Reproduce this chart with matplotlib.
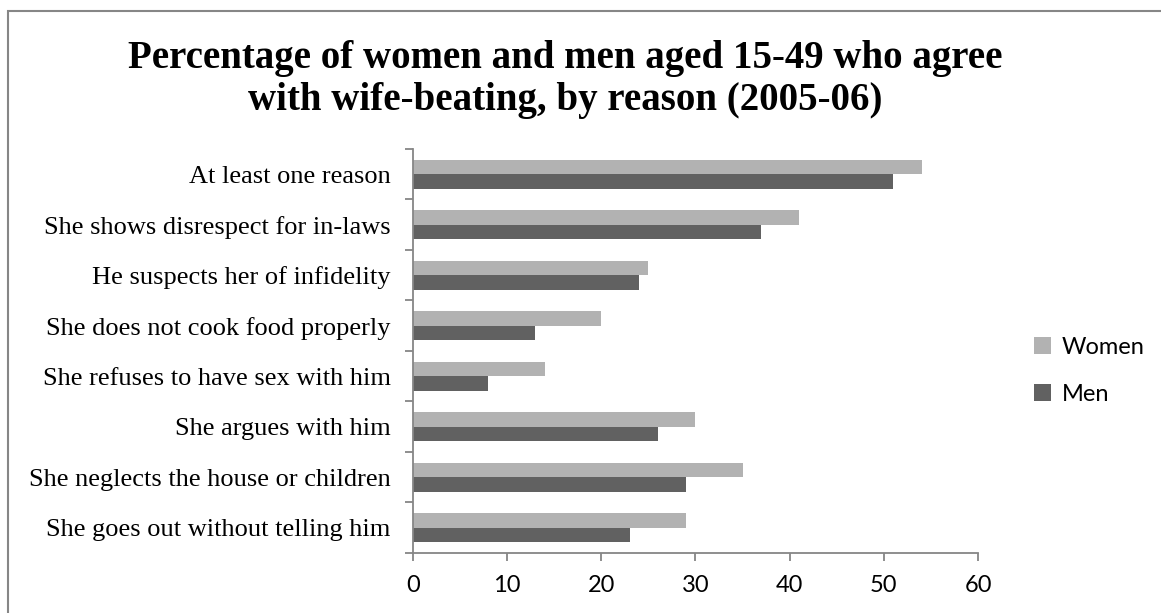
import numpy as np
import matplotlib.pyplot as plt
from matplotlib.patches import Rectangle

reasons = ["At least one reason",
           "She shows disrespect for in-laws",
           "He suspects her of infidelity",
           "She does not cook food properly",
           "She refuses to have sex with him",
           "She argues with him",
           "She neglects the house or children",
           "She goes out without telling him"]
women = [54, 41, 25, 20, 14, 30, 35, 29]
men = [51, 37, 24, 13, 8, 26, 29, 23]

c_women = "#b2b2b2"
c_men = "#616161"
axis_col = "#868686"

fig = plt.figure(figsize=(11.61, 6.13), dpi=100)
ax = fig.add_axes([0.3557, 0.0979, 0.8424 - 0.3557, 0.757 - 0.0979])

y = np.arange(len(reasons))
h = 0.283
ax.barh(y - h / 2, women, height=h, color=c_women, label="Women")
ax.barh(y + h / 2, men, height=h, color=c_men, label="Men")

ax.set_ylim(len(reasons) - 0.5, -0.5)
ax.set_xlim(0, 60)
ax.set_xticks(range(0, 61, 10))
ax.set_yticks(y)
ax.set_yticklabels(reasons, family="Liberation Serif", fontsize=19)
ax.set_yticks(np.arange(len(reasons) + 1) - 0.5, minor=True)
ax.tick_params(axis="y", which="major", length=0, pad=16)
ax.tick_params(axis="y", which="minor", length=6, color=axis_col, width=1.3)
ax.tick_params(axis="x", length=6, color=axis_col, width=1.3, pad=10)
for lab in ax.get_xticklabels():
    lab.set_family("Lato")
    lab.set_fontsize(17)

for side in ["top", "right"]:
    ax.spines[side].set_visible(False)
for side in ["left", "bottom"]:
    ax.spines[side].set_color(axis_col)
    ax.spines[side].set_linewidth(1.3)

leg = fig.legend(loc="center left", bbox_to_anchor=(0.8725, 0.395), frameon=False,
                 prop={"family": "Lato", "size": 17}, handlelength=0.7,
                 handleheight=0.7, handletextpad=0.45, labelspacing=1.1)

fig.text(0.487, 0.87, "Percentage of women and men aged 15-49 who agree\nwith wife-beating, by reason (2005-06)",
         ha="center", va="center", family="Liberation Serif", weight="bold",
         fontsize=28, linespacing=1.2)

# chart border
fig.patches.append(Rectangle((8 / 1161, -0.1), 1.2, 1 - 11 / 613 + 0.1,
                             transform=fig.transFigure, fill=False,
                             edgecolor=axis_col, linewidth=1.5))

fig.savefig("out.png", dpi=100)
